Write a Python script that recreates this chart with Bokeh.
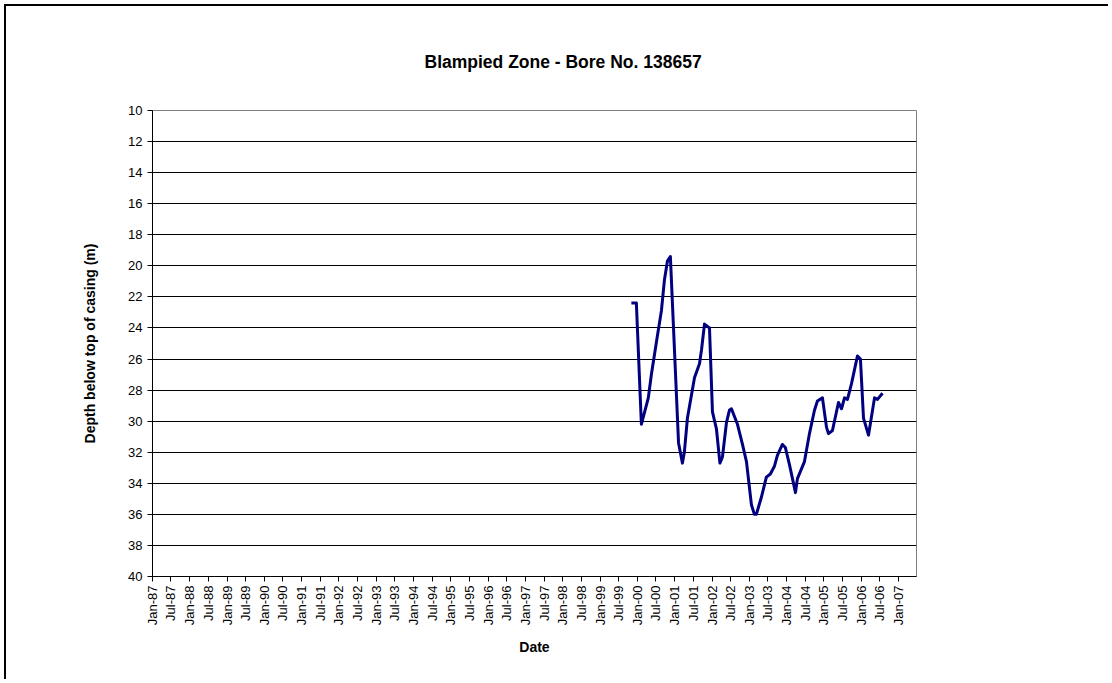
from datetime import datetime
from bokeh.plotting import figure
from bokeh.models import Range1d, FixedTicker, DatetimeTickFormatter, ColumnDataSource
from bokeh.embed import file_html
from bokeh.resources import INLINE

# ---- data ----
dates = [
    "1999-11-03", "1999-12-22", "2000-02-09", "2000-04-17", "2000-05-17", "2000-07-15",
    "2000-08-23", "2000-09-22", "2000-10-21", "2000-11-19", "2001-02-07", "2001-03-17",
    "2001-04-05", "2001-05-05", "2001-07-13", "2001-08-31", "2001-09-20", "2001-10-19",
    "2001-12-07", "2002-01-05", "2002-02-13", "2002-03-19", "2002-04-13", "2002-05-22",
    "2002-06-20", "2002-07-10", "2002-09-07", "2002-10-26", "2002-12-04", "2003-01-22",
    "2003-02-20", "2003-03-11", "2003-04-29", "2003-06-17", "2003-07-26", "2003-09-04",
    "2003-10-03", "2003-11-21", "2003-12-20", "2004-01-29", "2004-03-28", "2004-04-16",
    "2004-06-24", "2004-08-12", "2004-09-30", "2004-10-29", "2004-12-17", "2005-01-26",
    "2005-02-14", "2005-03-25", "2005-05-23", "2005-06-22", "2005-07-21", "2005-08-19",
    "2005-09-27", "2005-11-25", "2005-12-24", "2006-01-23", "2006-03-13", "2006-05-11",
    "2006-06-09", "2006-07-28",
]
depth = [
    22.4, 22.4, 30.2, 28.5, 27.0, 24.5,
    22.9, 20.9, 19.7, 19.4, 31.4, 32.7,
    32.0, 29.8, 27.2, 26.3, 25.4, 23.75,
    24.0, 29.4, 30.5, 32.7, 32.3, 30.1,
    29.3, 29.2, 30.2, 31.5, 32.6, 35.4,
    36.0, 36.0, 34.9, 33.6, 33.4, 32.9,
    32.2, 31.5, 31.7, 32.8, 34.6, 33.7,
    32.6, 30.8, 29.3, 28.7, 28.5, 30.4,
    30.8, 30.6, 28.8, 29.2, 28.5, 28.6,
    27.6, 25.8, 26.0, 29.8, 30.9, 28.5,
    28.6, 28.2,
]
tick_years = list(range(1987, 2008))
y_ticks = list(range(10, 41, 2))

title_text = "Blampied Zone - Bore No. 138657"
x_title = "Date"
y_title = "Depth below top of casing (m)"

FONT = "Liberation Sans"

x_dates = [datetime.strptime(d, "%Y-%m-%d") for d in dates]
src = ColumnDataSource(dict(x=x_dates, y=depth))

x_start = datetime(1987, 1, 1)
x_end = datetime(2007, 6, 26)

W, H = 1104, 675
FL, FW, FT, FH = 146, 764, 104, 466

p = figure(
    width=W, height=H, output_backend="svg", toolbar_location=None,
    x_axis_type="datetime",
    x_range=Range1d(x_start, x_end), y_range=Range1d(40, 10),
    min_border_left=FL, min_border_right=W - FL - FW,
    min_border_top=FT, min_border_bottom=H - FT - FH,
    background_fill_color="white", border_fill_color="white",
)
p.styles = {"margin-left": "4px", "margin-top": "4px",
            "border-left": "2px solid black", "border-top": "2px solid black"}
p.outline_line_color = "#808080"
p.outline_line_width = 1

p.title.text = title_text
p.title.align = "left"
p.title.offset = 272
p.title.text_font = FONT
p.title.text_font_size = "17.5px"
p.title.text_font_style = "bold"
p.title.text_color = "black"
p.title.standoff = 78

p.line("x", "y", source=src, line_color="#000080", line_width=3, line_join="round")

# ticks
tick_ms = []
for yr in tick_years:
    tick_ms.append(datetime(yr, 1, 1).timestamp() * 1000)
    if yr < 2007:
        tick_ms.append(datetime(yr, 7, 1).timestamp() * 1000)
xa = p.xaxis[0]
xa.ticker = FixedTicker(ticks=tick_ms, minor_ticks=[])
fmt = "%b-%y"
xa.formatter = DatetimeTickFormatter(
    years=fmt, months=fmt, days=fmt, hours=fmt, minutes=fmt, seconds=fmt,
    milliseconds=fmt, microseconds=fmt, hourmin=fmt, minsec=fmt,
)
xa.major_label_orientation = 1.5707963
xa.major_label_text_font = FONT
xa.major_label_text_font_size = "13px"
xa.major_label_text_color = "black"
xa.major_label_standoff = 4
xa.axis_label = x_title
xa.axis_label_text_font = FONT
xa.axis_label_text_font_size = "14px"
xa.axis_label_text_font_style = "bold"
xa.axis_label_text_color = "black"
xa.axis_label_standoff = 11

ya = p.yaxis[0]
ya.ticker = FixedTicker(ticks=y_ticks, minor_ticks=[])
ya.major_label_text_font = FONT
ya.major_label_text_font_size = "13px"
ya.major_label_text_color = "black"
ya.major_label_standoff = 5
ya.axis_label = y_title
ya.axis_label_text_font = FONT
ya.axis_label_text_font_size = "14px"
ya.axis_label_text_font_style = "bold"
ya.axis_label_text_color = "black"
ya.axis_label_standoff = 27

for ax in (xa, ya):
    ax.axis_line_color = "black"
    ax.axis_line_width = 1
    ax.major_tick_line_color = "black"
    ax.major_tick_out = 5
    ax.major_tick_in = 0
    ax.minor_tick_line_color = None

p.xgrid.grid_line_color = None
p.ygrid.grid_line_color = "black"
p.ygrid.grid_line_width = 1
p.ygrid.ticker = FixedTicker(ticks=y_ticks[1:])

open("out.html", "w").write(file_html(p, INLINE))
